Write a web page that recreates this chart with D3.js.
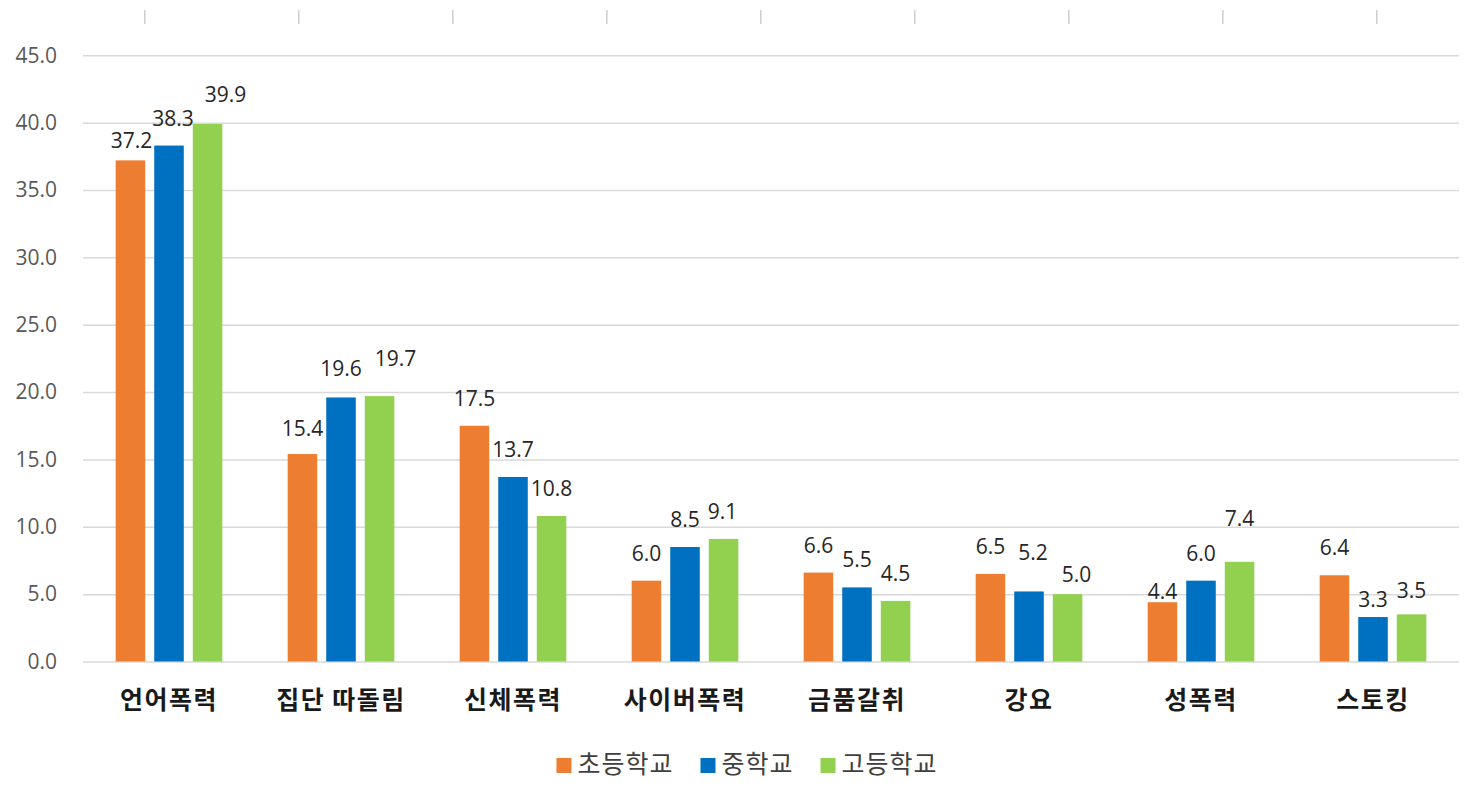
<!DOCTYPE html>
<html>
<head>
<meta charset="utf-8">
<script src="https://cdn.jsdelivr.net/npm/d3@7"></script>
<style>
  html, body { margin: 0; padding: 0; background: #ffffff; }
  svg { display: block; }
</style>
</head>
<body>
<div id="chart"></div>
<script>
// ---- data ----
const categories = ["언어폭력", "집단 따돌림", "신체폭력", "사이버폭력", "금품갈취", "강요", "성폭력", "스토킹"];
const seriesNames = ["초등학교", "중학교", "고등학교"];
const elementary = [37.2, 15.4, 17.5, 6.0, 6.6, 6.5, 4.4, 6.4];
const middle     = [38.3, 19.6, 13.7, 8.5, 5.5, 5.2, 6.0, 3.3];
const high       = [39.9, 19.7, 10.8, 9.1, 4.5, 5.0, 7.4, 3.5];
const yTickValues = [0, 5, 10, 15, 20, 25, 30, 35, 40, 45];

// ---- styling / layout (kept separate from data) ----
const colors = ["#ED7D31", "#0070C0", "#92D050"];
// small manual label nudges [dx, dy] as in the original chart
const labelNudges = [
  [[1, 8], [0, 2], [0, 0], [0, 0], [0, 0], [0, 0], [0, 17], [0, 0]],
  [[4, 0], [0, -1], [0, 0], [0, 0], [0, 0], [4, -11], [0, 0], [0, 10]],
  [[18, -2], [16, -10], [0, 0], [-1, 0], [0, 0], [9, 8], [0, -16], [0, 4]]
];

const W = 1471, H = 812;
const plot = { left: 83, right: 1459, top: 55.3, bottom: 661.5 };
const numFont = "'Open Sans', 'Noto Sans CJK KR', sans-serif";
const krFont = "'Noto Sans CJK KR', 'Noto Sans', sans-serif";

const seriesValues = [elementary, middle, high];
const rows = categories.map((c, i) => ({
  category: c,
  values: seriesValues.map((arr, s) => ({ s, name: seriesNames[s], value: arr[i], nudge: labelNudges[s][i] }))
}));

const svg = d3.select("#chart").append("svg")
  .attr("width", W).attr("height", H)
  .style("background", "#fff");

// scales
const x0 = d3.scaleBand().domain(categories)
  .range([plot.left, plot.right])
  .paddingInner(0.38).paddingOuter(0.19);
const x1 = d3.scaleBand().domain(d3.range(seriesNames.length))
  .range([0, x0.bandwidth()])
  .paddingInner(0.234).paddingOuter(0);
const y = d3.scaleLinear().domain([0, 45]).range([plot.bottom, plot.top]);

// remnant top axis tick marks (from cropped chart above)
const topScale = d3.scaleLinear().domain([0, 8]).range([144.3, 1376.3]);
const topAxis = svg.append("g").attr("transform", "translate(0,10)")
  .call(d3.axisBottom(topScale).tickValues(d3.range(0, 9)).tickSize(14).tickFormat(""));
topAxis.select(".domain").remove();
topAxis.selectAll(".tick line").attr("stroke", "#d0d0d0").attr("stroke-width", 1.6);

// gridlines
const grid = svg.append("g")
  .attr("transform", `translate(${plot.left},0)`)
  .call(d3.axisLeft(y).tickValues(yTickValues).tickSize(-(plot.right - plot.left)).tickFormat(""));
grid.select(".domain").remove();
grid.selectAll(".tick line").attr("stroke", "#d9d9d9").attr("stroke-width", 1.5);

// y axis labels
const yAxis = svg.append("g")
  .attr("transform", `translate(${plot.left},0)`)
  .call(d3.axisLeft(y).tickValues(yTickValues).tickSize(0).tickPadding(26).tickFormat(d3.format(".1f")));
yAxis.select(".domain").remove();
yAxis.selectAll("text")
  .attr("fill", "#595959")
  .style("font-family", numFont)
  .style("font-size", "21px");

// bars
const groups = svg.append("g").selectAll("g.cat")
  .data(rows).join("g")
  .attr("class", "cat")
  .attr("transform", d => `translate(${x0(d.category)},0)`);

groups.selectAll("rect")
  .data(d => d.values).join("rect")
  .attr("x", d => x1(d.s))
  .attr("width", x1.bandwidth())
  .attr("y", d => y(d.value))
  .attr("height", d => y(0) - y(d.value))
  .attr("fill", d => colors[d.s]);

// value labels
groups.selectAll("text.val")
  .data(d => d.values).join("text")
  .attr("class", "val")
  .attr("x", d => x1(d.s) + x1.bandwidth() / 2 + d.nudge[0])
  .attr("y", d => y(d.value) - 20 + d.nudge[1])
  .attr("text-anchor", "middle")
  .attr("fill", "#262626")
  .style("font-family", numFont)
  .style("font-size", "21px")
  .text(d => d3.format(".1f")(d.value));

// category axis labels
const xAxis = svg.append("g")
  .attr("transform", `translate(0,${plot.bottom})`)
  .call(d3.axisBottom(x0).tickSize(0).tickPadding(0));
xAxis.select(".domain").remove();
xAxis.selectAll("text")
  .attr("y", 39)
  .attr("dy", "0.35em")
  .attr("fill", "#1a1a1a")
  .style("font-family", krFont)
  .style("font-size", "25px")
  .style("letter-spacing", "1.5px")
  .style("font-weight", "bold");

// legend
const legend = svg.append("g").attr("class", "legend");
const items = legend.selectAll("g").data(seriesNames).join("g");
items.append("rect")
  .attr("width", 15).attr("height", 15)
  .attr("y", 758)
  .attr("fill", (d, i) => colors[i]);
items.append("text")
  .attr("x", 21)
  .attr("y", 764)
  .attr("dy", "0.35em")
  .attr("fill", "#404040")
  .style("font-family", krFont)
  .style("font-size", "25px")
  .style("letter-spacing", "1px")
  .text(d => d);
let widths = [];
items.each(function() {
  widths.push(21 + d3.select(this).select("text").node().getComputedTextLength());
});
const gap = 27;
const total = d3.sum(widths) + gap * (widths.length - 1);
let cx = 747 - total / 2;
items.attr("transform", (d, i) => {
  const t = `translate(${cx},0)`;
  cx += widths[i] + gap;
  return t;
});
</script>
</body>
</html>
